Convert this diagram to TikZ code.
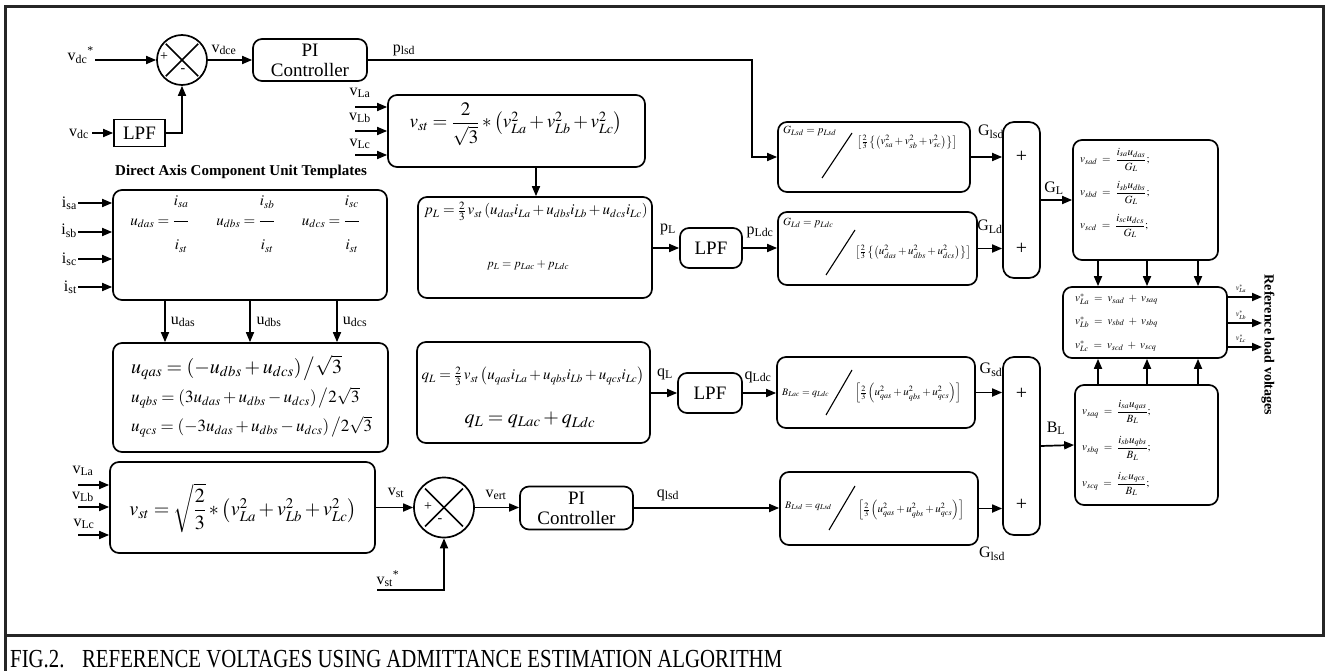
\documentclass[tikz,border=0pt]{standalone}
\usepackage{amsmath}
\usepackage{mathptmx}
\usepackage{fontspec}
\setmainfont{Liberation Serif}
\usetikzlibrary{arrows.meta,calc}
\begin{document}
\begin{tikzpicture}[x=1pt,y=-1pt,
  box/.style={draw, line width=1.7pt, rounded corners=9pt, inner sep=0pt},
  sqbox/.style={draw, line width=1.7pt, inner sep=0pt},
  sumc/.style={draw, circle, line width=1.7pt, inner sep=0pt},
  arr/.style={line width=1.7pt, -{Triangle[length=10pt,width=8pt]}},
  ln/.style={line width=1.7pt},
  thin/.style={line width=1.1pt},
  lab/.style={inner sep=0pt, font=\fontsize{16}{18}\selectfont},
  eq/.style={inner sep=0pt, font=\fontsize{15}{18}\selectfont},
  seq/.style={inner sep=0pt, font=\fontsize{11}{13}\selectfont},
  sgn/.style={inner sep=0pt, font=\fontsize{14}{16}\selectfont},
  bsgn/.style={inner sep=0pt, font=\fontsize{20}{22}\selectfont}]
\useasboundingbox (0,0) rectangle (1328,671);
\fill[white] (0,0) rectangle (1328,671);
% frame
\draw[line width=3pt, draw=black!85] (5,7) rectangle (1323,635);
\draw[line width=3pt, draw=black!85] (5,635) -- (5,671);
\node[anchor=base west, inner sep=0pt] (cap) at (10,667)
  {\fontsize{26}{30}\selectfont\scalebox{0.8}[1]{FIG.2.\hspace{22pt}REFERENCE VOLTAGES USING ADMITTANCE ESTIMATION ALGORITHM}};

% ---------------- top-left: DC loop ----------------
\node[sumc, minimum size=50pt] (sum1) at (182,60) {};
\draw[ln, shorten <=3pt, shorten >=3pt] (sum1.north west) -- (sum1.south east);
\draw[ln, shorten <=3pt, shorten >=3pt] (sum1.south west) -- (sum1.north east);
\node[sgn] (p1) at (164,57) {+};
\node[sgn] (m1) at (183,71) {-};
\node[box, minimum width=114pt, minimum height=42pt, align=center,
  font=\fontsize{19}{20}\selectfont] (pi1) at (310,60) {PI\\Controller};
\node[sqbox, minimum width=51pt, minimum height=27pt,
  font=\fontsize{19}{20}\selectfont] (lpf1) at (139.5,133) {LPF};
\coordinate (vdcs) at (95,60);
\coordinate (vdc) at (92,133);
\node[lab, anchor=east] (lvdcs) at (94,55) {v\textsubscript{dc}\textsuperscript{*}};
\node[lab, anchor=east] (lvdc) at (89,134) {v\textsubscript{dc}};
\draw[arr] (vdcs) -- (sum1.west);
\draw[arr] (vdc) -- (lpf1.west);
\draw[arr] (lpf1.east) -| (sum1.south);
\draw[arr] (sum1.east) -- (pi1.west);
\node[lab] (lvdce) at (224,50) {v\textsubscript{dce}};
\coordinate (c1) at (752,60);
\node[lab] (lplsd) at (404,50) {p\textsubscript{lsd}};

% ---------------- v_st box (top) ----------------
\node[box, minimum width=257pt, minimum height=72pt] (vst1) at (516.5,131) {};
\node[eq, font=\fontsize{19}{21}\selectfont] (vst1e) at (516,124)
  {$v_{st}=\dfrac{2}{\sqrt{3}} * \left(v_{La}^{2}+v_{Lb}^{2}+v_{Lc}^{2}\right)$};
\coordinate (ia1) at (355,107);
\coordinate (ib1) at (355,131);
\coordinate (ic1) at (355,155);
\draw[arr] (ia1) -- (ia1 -| vst1.west);
\draw[arr] (ib1) -- (ib1 -| vst1.west);
\draw[arr] (ic1) -- (ic1 -| vst1.west);
\node[lab] (lva1) at (360,93) {v\textsubscript{La}};
\node[lab] (lvb1) at (360,118) {v\textsubscript{Lb}};
\node[lab] (lvc1) at (360,144) {v\textsubscript{Lc}};

% ---------------- p_L box ----------------
\node[box, minimum width=234pt, minimum height=101pt] (pL) at (535,247.5) {};
\node[eq] (pLe1) at (536,211)
  {$p_L=\tfrac{2}{3}\,v_{st}\left(u_{das}i_{La}+u_{dbs}i_{Lb}+u_{dcs}i_{Lc}\right)$};
\node[eq, font=\fontsize{12}{14}\selectfont] (pLe2) at (528,265) {$p_L=p_{Lac}+p_{Ldc}$};
\draw[arr] (vst1.south -| pLe1) -- (pL.north -| pLe1);
\node[box, minimum width=62pt, minimum height=40pt,
  font=\fontsize{19}{20}\selectfont] (lpf2) at (711,248) {LPF};
\draw[arr] (pL.east |- lpf2.west) -- (lpf2.west);
\node[lab] (lpL) at (668,229) {p\textsubscript{L}};
\node[lab] (lpLdc) at (760,232) {p\textsubscript{Ldc}};

% ---------------- G boxes ----------------
\node[box, minimum width=192pt, minimum height=70pt] (g1) at (874,157) {};
\node[seq, anchor=west] (g1n) at (783,131) {$G_{Lsd}=p_{Lsd}$};
\draw[thin] (822,178) -- (852,133);
\node[seq] (g1d) at (907,142)
  {$\left[\tfrac{2}{3}\left\{\left(v_{sa}^{2}+v_{sb}^{2}+v_{sc}^{2}\right)\right\}\right]$};
\draw[arr] (pi1.east) -- (c1) |- (g1.west);

\node[box, minimum width=199pt, minimum height=73pt] (g2) at (877.5,248.5) {};
\node[seq, anchor=west] (g2n) at (783,223) {$G_{Ld}=p_{Ldc}$};
\draw[thin] (826,275) -- (855,230);
\node[seq] (g2d) at (913,252)
  {$\left[\tfrac{2}{3}\left\{\left(u_{das}^{2}+u_{dbs}^{2}+u_{dcs}^{2}\right)\right\}\right]$};
\draw[arr] (lpf2.east) -- (lpf2.east -| g2.west);

\node[box, rounded corners=11pt, minimum width=37pt, minimum height=156pt] (sumG) at (1021.5,200) {};
\node[bsgn] (sg1) at (1021.5,157) {+};
\node[bsgn] (sg2) at (1021.5,249) {+};
\draw[arr] (g1.east) -- (g1.east -| sumG.west);
\draw[arr] (g2.east) -- (g2.east -| sumG.west);
\node[lab] (lG1) at (991,132) {G\textsubscript{lsd}};
\node[lab] (lG2) at (990,227) {G\textsubscript{Ld}};
\node[lab] (lGL) at (1054,188) {G\textsubscript{L}};

% ---------------- v_sd box ----------------
\node[box, minimum width=145pt, minimum height=120pt] (vd) at (1145.5,200) {};
\node[seq, anchor=west] (vd1) at (1080,160) {$v_{sad}\;=\;\dfrac{i_{sa}u_{das}}{G_L};$};
\node[seq, anchor=west] (vd2) at (1080,193) {$v_{sbd}\;=\;\dfrac{i_{sb}u_{dbs}}{G_L};$};
\node[seq, anchor=west] (vd3) at (1080,226) {$v_{scd}\;=\;\dfrac{i_{sc}u_{dcs}}{G_L};$};
\draw[arr] (sumG.east) -- (vd.west);

% ---------------- combination box ----------------
\node[box, minimum width=164pt, minimum height=71pt] (comb) at (1145,322.5) {};
\node[seq, anchor=west] (cb1) at (1075,299) {$v_{La}^{*}\;=\;v_{sad}\;+\;v_{saq}$};
\node[seq, anchor=west] (cb2) at (1075,322) {$v_{Lb}^{*}\;=\;v_{sbd}\;+\;v_{sbq}$};
\node[seq, anchor=west] (cb3) at (1075,346) {$v_{Lc}^{*}\;=\;v_{scd}\;+\;v_{scq}$};
\coordinate (xa) at (1098,0);
\coordinate (xb) at (1147,0);
\coordinate (xc) at (1198,0);
\draw[arr] (vd.south -| xa) -- (comb.north -| xa);
\draw[arr] (vd.south -| xb) -- (comb.north -| xb);
\draw[arr] (vd.south -| xc) -- (comb.north -| xc);
\coordinate (o1) at (1262,297);
\coordinate (o2) at (1262,323);
\coordinate (o3) at (1262,347);
\draw[arr] (comb.east |- o1) -- (o1);
\draw[arr] (comb.east |- o2) -- (o2);
\draw[arr] (comb.east |- o3) -- (o3);
\node[inner sep=0pt, font=\fontsize{8}{9}\selectfont] (lo1) at (1241,289) {$v_{La}^{*}$};
\node[inner sep=0pt, font=\fontsize{8}{9}\selectfont] (lo2) at (1241,315) {$v_{Lb}^{*}$};
\node[inner sep=0pt, font=\fontsize{8}{9}\selectfont] (lo3) at (1241,339) {$v_{Lc}^{*}$};
\node[inner sep=0pt, rotate=-90, font=\bfseries\fontsize{14}{16}\selectfont] (rlv) at (1268,345) {Reference load voltages};

% ---------------- v_sq box ----------------
\node[box, minimum width=143pt, minimum height=120pt] (vq) at (1146.5,445) {};
\node[seq, anchor=west] (vq1) at (1082,412) {$v_{saq}\;=\;\dfrac{i_{sa}u_{qas}}{B_L};$};
\node[seq, anchor=west] (vq2) at (1082,448) {$v_{sbq}\;=\;\dfrac{i_{sb}u_{qbs}}{B_L};$};
\node[seq, anchor=west] (vq3) at (1082,484) {$v_{scq}\;=\;\dfrac{i_{sc}u_{qcs}}{B_L};$};
\draw[arr] (vq.north -| xa) -- (comb.south -| xa);
\draw[arr] (vq.north -| xb) -- (comb.south -| xb);
\draw[arr] (vq.north -| xc) -- (comb.south -| xc);

% ---------------- B boxes ----------------
\node[box, rounded corners=11pt, minimum width=37pt, minimum height=178pt] (sumB) at (1021.5,446) {};
\node[bsgn] (sb1) at (1021.5,394) {+};
\node[bsgn] (sb2) at (1021.5,505) {+};
\draw[arr] (sumB.east) -- (vq.west);
\node[lab] (lBL) at (1056,428) {B\textsubscript{L}};

\node[box, minimum width=198pt, minimum height=71pt] (b1) at (876,392.5) {};
\node[seq, anchor=west, font=\fontsize{10}{12}\selectfont] (b1n) at (782,393) {$B_{Lac}=q_{Ldc}$};
\draw[thin] (826,415) -- (852,370);
\node[seq] (b1d) at (908,393)
  {$\left[\tfrac{2}{3}\left(u_{qas}^{2}+u_{qbs}^{2}+u_{qcs}^{2}\right)\right]$};
\draw[arr] (b1.east) -- (b1.east -| sumB.west);
\node[lab] (lGsd) at (991,370) {G\textsubscript{sd}};

\node[box, minimum width=198pt, minimum height=73pt] (b2) at (879,508.5) {};
\node[seq, anchor=west, font=\fontsize{10}{12}\selectfont] (b2n) at (785,506) {$B_{Lsd}=q_{Lsd}$};
\draw[thin] (829,530) -- (855,486);
\node[seq] (b2d) at (911,510)
  {$\left[\tfrac{2}{3}\left(u_{qas}^{2}+u_{qbs}^{2}+u_{qcs}^{2}\right)\right]$};
\draw[arr] (b2.east) -- (b2.east -| sumB.west);
\node[lab] (lGlsd) at (992,554) {G\textsubscript{lsd}};

% ---------------- q_L box ----------------
\node[box, minimum width=233pt, minimum height=101pt] (qL) at (533.5,392.5) {};
\node[eq] (qLe1) at (533,376)
  {$q_L=\tfrac{2}{3}\,v_{st}\left(u_{qas}i_{La}+u_{qbs}i_{Lb}+u_{qcs}i_{Lc}\right)$};
\node[eq, font=\fontsize{20}{22}\selectfont] (qLe2) at (530,420) {$q_L=q_{Lac}+q_{Ldc}$};
\node[box, minimum width=64pt, minimum height=40pt,
  font=\fontsize{19}{20}\selectfont] (lpf3) at (710,393) {LPF};
\draw[arr] (qL.east |- lpf3.west) -- (lpf3.west);
\draw[arr] (lpf3.east) -- (lpf3.east -| b1.west);
\node[lab] (lqL) at (665,374) {q\textsubscript{L}};
\node[lab] (lqLdc) at (758,377) {q\textsubscript{Ldc}};

% ---------------- unit templates ----------------
\node[inner sep=0pt, font=\bfseries\fontsize{15}{17}\selectfont] (dact) at (241,172) {Direct Axis Component Unit Templates};
\node[box, minimum width=274pt, minimum height=110pt] (ut) at (250,245) {};
\node[eq] (ut1) at (160,224) {$u_{das}=\dfrac{i_{sa}\rule[-14pt]{0pt}{1pt}}{\rule{0pt}{26pt}i_{st}}$};
\node[eq] (ut2) at (246,224) {$u_{dbs}=\dfrac{i_{sb}\rule[-14pt]{0pt}{1pt}}{\rule{0pt}{26pt}i_{st}}$};
\node[eq] (ut3) at (331,224) {$u_{dcs}=\dfrac{i_{sc}\rule[-14pt]{0pt}{1pt}}{\rule{0pt}{26pt}i_{st}}$};
\coordinate (is1) at (78,203);
\coordinate (is2) at (78,232);
\coordinate (is3) at (78,259);
\coordinate (is4) at (78,287);
\draw[arr] (is1) -- (is1 -| ut.west);
\draw[arr] (is2) -- (is2 -| ut.west);
\draw[arr] (is3) -- (is3 -| ut.west);
\draw[arr] (is4) -- (is4 -| ut.west);
\node[lab, anchor=east] (lis1) at (77,203) {i\textsubscript{sa}};
\node[lab, anchor=east] (lis2) at (77,231) {i\textsubscript{sb}};
\node[lab, anchor=east] (lis3) at (77,259) {i\textsubscript{sc}};
\node[lab, anchor=east] (lis4) at (77,287) {i\textsubscript{st}};

% ---------------- quadrature templates ----------------
\node[box, minimum width=275pt, minimum height=109pt] (uq) at (250.5,397.5) {};
\coordinate (ua) at (165,0);
\coordinate (ub) at (250,0);
\coordinate (uc) at (337,0);
\draw[arr] (ut.south -| ua) -- (uq.north -| ua);
\draw[arr] (ut.south -| ub) -- (uq.north -| ub);
\draw[arr] (ut.south -| uc) -- (uq.north -| uc);
\node[lab] (lua) at (183,322) {u\textsubscript{das}};
\node[lab] (lub) at (269,322) {u\textsubscript{dbs}};
\node[lab] (luc) at (355,322) {u\textsubscript{dcs}};
\node[eq, anchor=west, font=\fontsize{20}{22}\selectfont] (uq1) at (131,368) {$u_{qas}=\left(-u_{dbs}+u_{dcs}\right)\big/\sqrt{3}$};
\node[eq, anchor=west, font=\fontsize{17}{19}\selectfont] (uq2) at (131,398) {$u_{qbs}=\left(3u_{das}+u_{dbs}-u_{dcs}\right)\big/2\sqrt{3}$};
\node[eq, anchor=west, font=\fontsize{17}{19}\selectfont] (uq3) at (131,427) {$u_{qcs}=\left(-3u_{das}+u_{dbs}-u_{dcs}\right)\big/2\sqrt{3}$};

% ---------------- bottom v_st loop ----------------
\node[box, minimum width=265pt, minimum height=91pt] (vst2) at (242.5,507.5) {};
\node[eq, font=\fontsize{20}{22}\selectfont] (vst2e) at (243,508)
  {$v_{st}=\sqrt{\dfrac{2}{3}} * \left(v_{La}^{2}+v_{Lb}^{2}+v_{Lc}^{2}\right)$};
\coordinate (ia2) at (78,485);
\coordinate (ib2) at (78,507);
\coordinate (ic2) at (78,535);
\draw[arr] (ia2) -- (ia2 -| vst2.west);
\draw[arr] (ib2) -- (ib2 -| vst2.west);
\draw[arr] (ic2) -- (ic2 -| vst2.west);
\node[lab] (lva2) at (83,471) {v\textsubscript{La}};
\node[lab] (lvb2) at (83,497) {v\textsubscript{Lb}};
\node[lab] (lvc2) at (84,524) {v\textsubscript{Lc}};

\node[sumc, minimum size=60pt] (sum2) at (444,507.5) {};
\draw[ln, shorten <=4pt, shorten >=4pt] (sum2.north west) -- (sum2.south east);
\draw[ln, shorten <=4pt, shorten >=4pt] (sum2.south west) -- (sum2.north east);
\node[sgn] (p2) at (428,507) {+};
\node[sgn] (m2) at (440,521) {-};
\draw[arr] (vst2.east) -- (sum2.west);
\node[lab] (lvst) at (396,493) {v\textsubscript{st}};
\coordinate (vsts) at (377,590);
\draw[arr] (vsts) -| (sum2.south);
\node[lab] (lvsts) at (388,579) {v\textsubscript{st}\textsuperscript{*}};

\node[box, minimum width=113pt, minimum height=43pt, align=center,
  font=\fontsize{19}{20}\selectfont] (pi2) at (576.5,508) {PI\\Controller};
\draw[arr] (sum2.east) -- (sum2.east -| pi2.west);
\node[lab] (lvert) at (496,495) {v\textsubscript{ert}};
\draw[arr] (pi2.east) -- (pi2.east -| b2.west);
\node[lab] (lqlsd) at (668,495) {q\textsubscript{lsd}};
\end{tikzpicture}
\end{document}
